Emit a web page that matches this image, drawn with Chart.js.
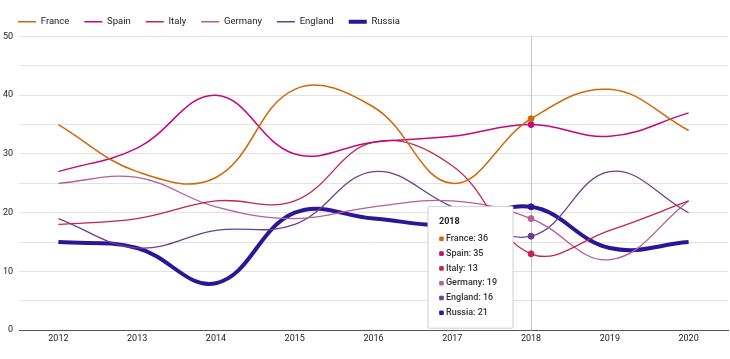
<!DOCTYPE html>
<html>
<head>
<meta charset="utf-8">
<script src="https://cdn.jsdelivr.net/npm/chart.js@4"></script>
<style>
  html, body { margin: 0; padding: 0; background: #fff; }
  #wrap { width: 730px; height: 359px; position: relative; }
</style>
</head>
<body>
<div id="wrap"><canvas id="c"></canvas></div>
<script>
const years = ['2012', '2013', '2014', '2015', '2016', '2017', '2018', '2019', '2020'];
const france  = [35, 27, 26, 41, 38, 25, 36, 41, 34];
const spain   = [27, 31, 40, 30, 32, 33, 35, 33, 37];
const italy   = [18, 19, 22, 22, 32, 28, 13, 17, 22];
const germany = [25, 26, 21, 19, 21, 22, 19, 12, 22];
const england = [19, 14, 17, 18, 27, 21, 16, 27, 20];
const russia  = [15, 14, 8, 20, 19, 18, 21, 14, 15];
const yTicks  = [0, 10, 20, 30, 40, 50];
const activeYear = '2018';

function ds(label, data, color, width) {
  return {
    label, data,
    borderColor: color,
    backgroundColor: color,
    borderWidth: width,
    tension: 0.4,
    pointRadius: 0,
    pointHoverRadius: 3,
    pointHoverBorderWidth: 1,
    pointHoverBackgroundColor: color,
    pointHoverBorderColor: color,
    fill: false
  };
}

const vline = {
  id: 'vline',
  beforeDatasetsDraw(chart) {
    const act = chart.tooltip.getActiveElements();
    if (!act.length) return;
    const x = chart.scales.x.getPixelForValue(act[0].index);
    const { top, bottom } = chart.chartArea;
    const ctx = chart.ctx;
    ctx.save();
    ctx.strokeStyle = '#c8c8c8';
    ctx.lineWidth = 1;
    ctx.beginPath();
    ctx.moveTo(Math.round(x) + 0.5, top);
    ctx.lineTo(Math.round(x) + 0.5, bottom);
    ctx.stroke();
    ctx.restore();
  }
};

Chart.Tooltip.positioners.leftOfPoint = function (elements) {
  if (!elements.length) return false;
  const ca = this.chart.chartArea;
  return { x: elements[0].element.x - 19, y: ca.bottom - 2 };
};

Chart.defaults.font.family = 'Roboto, "Noto Sans", sans-serif';

const chart = new Chart(document.getElementById('c'), {
  type: 'line',
  data: {
    labels: years,
    datasets: [
      ds('France', france, '#cf6a0a', 1.5),
      ds('Spain', spain, '#c4087e', 1.5),
      ds('Italy', italy, '#c1274b', 1.3),
      ds('Germany', germany, '#b45e9b', 1.3),
      ds('England', england, '#6b3f8f', 1.3),
      ds('Russia', russia, '#2c1698', 4)
    ]
  },
  plugins: [vline],
  options: {
    responsive: true,
    maintainAspectRatio: false,
    animation: false,
    interaction: { mode: 'index', intersect: false },
    layout: { padding: { left: 3, right: 2, top: 2, bottom: 12 } },
    plugins: {
      legend: {
        position: 'top',
        align: 'start',
        labels: {
          usePointStyle: true,
          pointStyle: 'line',
          pointStyleWidth: 18,
          boxHeight: 12,
          padding: 15,
          color: '#222',
          font: { size: 9.5 }
        }
      },
      tooltip: {
        enabled: true,
        position: 'leftOfPoint',
        xAlign: 'right',
        yAlign: 'bottom',
        caretSize: 0,
        caretPadding: 0,
        cornerRadius: 1,
        backgroundColor: '#ffffff',
        borderColor: '#cfcfcf',
        borderWidth: 1,
        titleColor: '#222',
        bodyColor: '#333',
        titleFont: { size: 9, weight: 'bold' },
        bodyFont: { size: 9, weight: '500' },
        titleMarginBottom: 6,
        bodySpacing: 4,
        padding: { left: 11, right: 16, top: 10, bottom: 10 },
        boxWidth: 5,
        boxHeight: 5,
        boxPadding: 0,
        usePointStyle: true,
        callbacks: {
          labelPointStyle() {
            return { pointStyle: 'rect', rotation: 0 };
          },
          labelColor(ctx) {
            return { borderColor: ctx.dataset.borderColor, backgroundColor: ctx.dataset.borderColor, borderWidth: 0 };
          }
        }
      }
    },
    scales: {
      x: {
        offset: true,
        grid: { display: false, drawTicks: false },
        border: { display: true, color: '#555', width: 1 },
        ticks: { color: '#222', font: { size: 9 }, padding: 3 }
      },
      y: {
        min: 0,
        max: 50,
        grid: { color: '#e2e2e2', drawTicks: false },
        border: { display: false },
        afterFit(scale) { scale.width = 16; },
        ticks: {
          stepSize: 5,
          color: '#222',
          font: { size: 9 },
          padding: 6,
          callback: (v) => yTicks.includes(v) ? String(v) : ''
        }
      }
    }
  }
});

const idx = years.indexOf(activeYear);
const els = chart.data.datasets.map((d, i) => ({ datasetIndex: i, index: idx }));
const meta0 = chart.getDatasetMeta(0).data[idx];
chart.setActiveElements(els);
chart.tooltip.setActiveElements(els, { x: meta0.x, y: meta0.y });
chart.update();
</script>
</body>
</html>
